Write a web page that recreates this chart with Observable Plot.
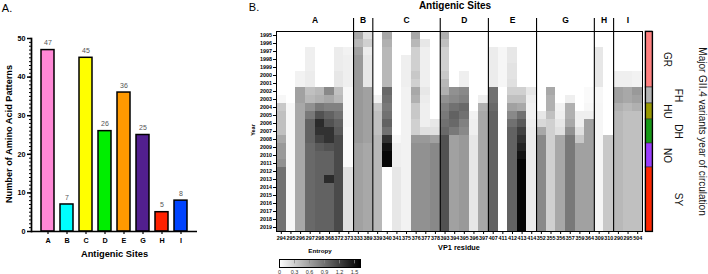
<!DOCTYPE html>
<html><head><meta charset="utf-8">
<script src="https://cdn.jsdelivr.net/npm/d3@7"></script>
<script src="https://cdn.jsdelivr.net/npm/@observablehq/plot@0.6"></script>
<style>
html,body{margin:0;padding:0;background:#fff;}
#root{position:relative;width:708px;height:274px;overflow:hidden;font-family:"Liberation Sans",Arial,Helvetica,sans-serif;color:#000;background:#fff;}
</style></head><body><div id="root"></div>
<script>
// ---------- Panel A data ----------
const sites = ["A","B","C","D","E","G","H","I"];
const patternCounts = [47,7,45,26,36,25,5,8];
const siteColors = ["#ff88d6","#00ffff","#ffff00","#00ee00","#ff9900","#521f8f","#ff2200","#0044ff"];
const barTicks = [0,10,20,30,40,50];

// ---------- Panel B data ----------
const years = [1995,1996,1997,1998,1999,2000,2001,2002,2003,2004,2005,2006,2007,2008,2009,2010,2011,2012,2013,2014,2015,2016,2017,2018,2019];
const residuesA = ["294","295","296","297","298","368","372","373"];
const residuesB = ["333","389"];
const residuesC = ["339","340","341","375","376","377","378"];
const residuesD = ["393","394","395","396","397"];
const residuesE = ["407","411","412","413","414"];
const residuesG = ["352","355","356","357","359","364"];
const residuesH = ["309","310"];
const residuesI = ["290","295","504"];

// entropy per residue, rows 1995..2019
const entropyA = [
 [0,0,0,0,0,0,0, 0,0.05,0.35,0.4,0.4,0.4,0.55, 0.65,0.65,0.7,0.9,0.9,0.9,0.9, 0.9,0.9,0.9,0.9],
 [0,0,0,0,0,0,0, 0,0,0.05,0.05,0.05,0.05,0.05, 0.05,0.05,0.05,0.05,0.05,0.05,0.05, 0.05,0.05,0.05,0.05],
 [0,0,0,0,0,0.08,0.08, 0.6,0.6,0.55,0.55,0.55,0.55,0.55, 0.55,0.55,0.55,0.55,0.55,0.55,0.55, 0.55,0.55,0.55,0.55],
 [0,0,0.1,0.1,0.1,0.12,0.12, 0.4,0.45,0.7,0.85,1.0,1.0,1.0, 0.95,0.95,0.95,0.95,0.95,0.95,0.95, 0.95,0.95,0.95,0.95],
 [0,0,0,0,0,0,0, 0.45,0.5,0.85,1.1,1.35,1.3,1.2, 1.05,1.0,1.0,1.0,1.0,1.0,1.0, 1.0,1.0,1.0,1.0],
 [0,0,0,0,0,0,0, 0.75,0.55,0.8,1.0,1.1,1.3,1.3, 1.1,1.0,1.0,1.0,1.35,1.0,1.0, 1.0,1.0,1.0,1.0],
 [0,0,0.12,0.12,0.12,0.15,0.15, 0.4,0.45,0.8,0.9,1.0,1.05,1.15, 1.15,1.15,1.15,1.15,1.15,1.15,1.15, 1.15,1.15,1.15,1.15],
 [0,0,0.08,0.1,0.1,0.1,0.1, 0.05,0.05,0.05,0.05,0.05,0.03,0.03, 0.03,0.03,0.03,0.2,0.2,0.2,0.2, 0.2,0.2,0.2,0.2]
];
const entropyB = [
 [0.55,0.45,0.6,0.65,0.65,0.65,0.65, 0.65,0.65,0.65,0.65,0.65,0.65,0.65, 0.6,0.6,0.6,0.6,0.6,0.6,0.6, 0.6,0.6,0.6,0.6],
 [0.2,0.3,0.12,0.15,0.15,0.15,0.15, 0.6,0.6,0.6,0.6,0.6,0.6,0.6, 0.55,0.55,0.55,0.55,0.55,0.55,0.55, 0.55,0.55,0.55,0.55]
];
const entropyC = [
 [0,0,0,0,0,0,0, 0,0.08,0.35,0.4,0.4,0.4,0.45, 0.45,0.45,0.45,0.45,0.45,0.45,0.45, 0.45,0.45,0.45,0.45],
 [0.55,0.5,0.45,0.45,0.45,0.45,0.45, 0.95,0.9,0.85,0.9,1.0,0.9,1.3, 1.5,1.58,1.58,0,0,0,0, 0,0,0,0],
 [0,0,0,0,0,0,0, 0,0,0,0,0,0,0.05, 0.1,0.1,0.1,0.15,0.15,0.15,0.15, 0.15,0.15,0.15,0.15],
 [0,0,0,0.1,0.1,0.1,0.1, 0.08,0.08,0.08,0.08,0.08,0.08,0.08, 0.08,0.08,0.08,0.08,0.08,0.08,0.08, 0.08,0.08,0.08,0.08],
 [0.55,0.45,0.3,0.3,0.3,0.35,0.3, 0.55,0.5,0.35,0.35,0.3,0.3,0.65, 0.7,0.7,0.7,0.7,0.7,0.7,0.7, 0.7,0.7,0.7,0.7],
 [0,0.15,0.1,0.1,0.1,0.1,0.1, 0.15,0.12,0.1,0.1,0.1,0.2,0.65, 0.7,0.7,0.7,0.7,0.7,0.7,0.7, 0.7,0.7,0.7,0.7],
 [0,0,0,0,0,0,0, 0,0,0,0,0.15,0.2,0.6, 0.75,0.75,0.75,0.75,0.75,0.75,0.75, 0.75,0.75,0.75,0.75]
];
const entropyD = [
 [0.5,0.4,0.3,0.3,0.3,0.35,0.45, 0.5,0.7,0.8,0.85,0.9,0.95,1.1, 1.1,1.1,1.1,1.1,1.1,1.1,1.1, 1.1,1.1,1.1,1.1],
 [0,0,0,0,0,0,0, 0.7,0.75,0.9,1.0,0.95,0.85,0.6, 0.6,0.6,0.6,0.6,0.6,0.6,0.6, 0.6,0.6,0.6,0.6],
 [0,0,0,0,0,0.1,0.1, 0.75,0.8,0.95,0.9,0.8,0.75,0.65, 0.65,0.65,0.65,0.65,0.65,0.65,0.65, 0.65,0.65,0.65,0.65],
 [0,0,0,0,0,0,0, 0,0,0,0.08,0.1,0.1,0.15, 0.15,0.15,0.15,0.15,0.15,0.15,0.15, 0.15,0.15,0.15,0.15],
 [0,0,0,0,0,0,0, 0,0.1,0.5,0.55,0.55,0.55,0.55, 0.55,0.55,0.55,0.55,0.55,0.55,0.55, 0.55,0.55,0.55,0.55]
];
const entropyE = [
 [0,0,0.12,0.12,0.12,0.12,0.12, 0.9,0.9,0.95,1.0,1.0,1.0,1.0, 1.0,1.0,1.0,1.0,1.0,1.0,1.0, 1.0,1.0,1.0,1.0],
 [0,0,0.06,0.06,0.06,0.06,0.06, 0,0,0,0,0,0,0, 0,0,0,0,0,0,0, 0,0,0,0],
 [0,0,0.15,0.15,0.18,0.18,0.2, 0.3,0.4,0.6,0.75,0.9,1.0,1.0, 1.0,1.0,1.0,1.0,1.0,1.0,1.0, 1.0,1.0,1.0,1.0],
 [0,0,0,0,0,0,0, 0.3,0.4,0.55,0.9,1.05,1.2,1.3, 1.4,1.5,1.58,1.58,1.58,1.58,1.58, 1.58,1.58,1.58,1.58],
 [0,0,0,0,0,0,0, 0.15,0.1,0.08,0.08,0.1,0.12,0.12, 0.12,0.12,0.12,0.12,0.12,0.12,0.12, 0.12,0.12,0.12,0.12]
];
const entropyG = [
 [0,0,0,0,0,0,0, 0,0,0,0.15,0.25,0.55,0.75, 0.75,0.75,0.75,0.75,0.75,0.75,0.75, 0.75,0.75,0.75,0.75],
 [0,0,0,0,0,0,0, 0.55,0.5,0.5,0.4,0.3,0.3,0.3, 0.3,0.3,0.3,0.3,0.3,0.3,0.3, 0.3,0.3,0.3,0.3],
 [0,0,0,0,0,0,0, 0,0,0.08,0.1,0.15,0.2,0.55, 0.55,0.55,0.55,0.55,0.55,0.55,0.55, 0.55,0.55,0.55,0.55],
 [0,0,0,0,0,0,0, 0,0.1,0.5,0.5,0.55,0.7,0.85, 0.85,0.85,0.85,0.85,0.85,0.85,0.85, 0.85,0.85,0.85,0.85],
 [0,0,0,0,0,0,0, 0,0,0,0.1,0.1,0.2,0.35, 0.6,0.6,0.6,0.6,0.6,0.6,0.6, 0.6,0.6,0.6,0.6],
 [0,0,0,0,0,0,0, 0.03,0.03,0.05,0.1,0.6,0.6,0.6, 0.6,0.6,0.6,0.6,0.6,0.6,0.6, 0.6,0.6,0.6,0.6]
];
const entropyH = [
 [0,0,0.15,0.15,0.15,0.15,0.15, 0.05,0.05,0.06,0.06,0.06,0.06,0.06, 0.06,0.06,0.06,0.06,0.06,0.06,0.06, 0.06,0.06,0.06,0.06],
 [0,0,0,0,0,0,0, 0,0,0,0,0,0,0.35, 0.35,0.35,0.35,0.35,0.35,0.35,0.35, 0.35,0.35,0.35,0.35]
];
const entropyI = [
 [0,0,0,0,0,0.1,0.1, 0.6,0.6,0.5,0.45,0.45,0.45,0.45, 0.45,0.45,0.45,0.45,0.45,0.45,0.45, 0.45,0.45,0.45,0.45],
 [0,0,0,0,0,0.1,0.1, 0.55,0.55,0.45,0.4,0.4,0.4,0.4, 0.4,0.4,0.4,0.4,0.4,0.4,0.4, 0.4,0.4,0.4,0.4],
 [0,0,0,0,0,0.08,0.08, 0.65,0.6,0.5,0.4,0.4,0.4,0.4, 0.4,0.4,0.4,0.4,0.4,0.4,0.4, 0.4,0.4,0.4,0.4]
];
const entropyTicks = [0,0.3,0.6,0.9,1.2,1.5];
const entropyMax = 1.62;

// variants
const variantNames = ["GR","FH","HU","DH","NO","SY"];
const variantStart = [1995,2002,2004,2006,2009,2012];
const variantEnd   = [2001,2003,2005,2008,2011,2019];
const variantColors = ["#ff8080","#b3b3b3","#999900","#159a15","#9b3cff","#ff2600"];

// ---------- build ----------
const FONT = '"Liberation Sans", Arial, Helvetica, sans-serif';
const root = document.getElementById("root");
function put(node, left, top) {
  const w = document.createElement("div");
  w.style.cssText = `position:absolute;left:${left}px;top:${top}px;`;
  w.appendChild(node); root.appendChild(w);
}
function label(text, cx, cy, size, weight, rot, color) {
  const d = document.createElement("div");
  d.textContent = text;
  d.style.cssText = `position:absolute;left:${cx}px;top:${cy}px;font-size:${size}px;font-weight:${weight};white-space:nowrap;line-height:1;color:${color||"#000"};transform:translate(-50%,-50%) rotate(${rot||0}deg);`;
  root.appendChild(d);
}
const baseStyle = {fontFamily: FONT, background: "transparent", overflow: "visible", color: "#000"};

// Panel A
const barData = sites.map((s, i) => ({site: s, n: patternCounts[i]}));
const plotA = Plot.plot({
  width: 230, height: 274,
  marginLeft: 31, marginRight: 33, marginTop: 38, marginBottom: 43,
  style: {...baseStyle, fontSize: "7.2px", fontWeight: "bold"},
  x: {domain: sites, paddingInner: 0.34, paddingOuter: 0.38},
  y: {domain: [0, 50]},
  color: {domain: sites, range: siteColors},
  marks: [
    Plot.barY(barData, {x: "site", y: "n", fill: "site", stroke: "#000", strokeWidth: 1.5}),
    Plot.text(barData, {x: "site", y: "n", text: d => String(d.n), dy: -7, fill: "#555", fontWeight: "normal", fontSize: 7}),
    Plot.axisY({ticks: d3.range(0, 51), tickSize: 2, tickFormat: () => "", label: null, strokeWidth: 1}),
    Plot.axisY({ticks: barTicks, tickSize: 4, tickPadding: 2, label: null, strokeWidth: 1.5}),
    Plot.axisX({tickSize: 3, tickPadding: 3, label: null, strokeWidth: 1.2}),
    Plot.ruleY([0], {strokeWidth: 1.7}),
    Plot.frame({anchor: "left", strokeWidth: 1.7})
  ]
});
put(plotA, 0, 0);

// Panel B heatmap
const groups = [
  ["A", residuesA, entropyA], ["B", residuesB, entropyB], ["C", residuesC, entropyC],
  ["D", residuesD, entropyD], ["E", residuesE, entropyE], ["G", residuesG, entropyG],
  ["H", residuesH, entropyH], ["I", residuesI, entropyI]
];
const residues = [], cells = [], siteGroups = [], boundaries = [];
for (const [site, res, ent] of groups) {
  const start = residues.length;
  res.forEach((r, j) => {
    const i = residues.length;
    residues.push(r);
    years.forEach((y, k) => cells.push({i, year: y, v: ent[j][k]}));
  });
  siteGroups.push({site, start, end: residues.length});
  if (start > 0) boundaries.push(start);
}
const nCols = residues.length;
const yTop = years[0] - 0.5, yBot = years[years.length - 1] + 0.5;
const heatRange = ["#ffffff", "#000000"];
const heatColor = {type: "linear", domain: [0, entropyMax], range: heatRange};

const plotB = Plot.plot({
  width: 420, height: 274,
  marginLeft: 46, marginRight: 8, marginTop: 31, marginBottom: 43,
  style: {...baseStyle, fontSize: "5.4px", fontWeight: "bold"},
  x: {domain: [0, nCols]},
  y: {domain: [yTop, yBot], reverse: true},
  color: heatColor,
  marks: [
    Plot.rect(cells, {x1: "i", x2: d => d.i + 1, y1: d => d.year - 0.5, y2: d => d.year + 0.5, fill: "v", shapeRendering: "crispEdges"}),
    Plot.frame({strokeWidth: 1}),
    Plot.ruleX(boundaries, {y1: yBot, y2: yTop - 1.62, strokeWidth: 1.1}),
    Plot.text(siteGroups, {x: d => (d.start + d.end) / 2, y: yTop - 1.38, text: "site", fontSize: 8.5, fontWeight: "bold"}),
    Plot.axisX({ticks: residues.map((r, i) => i + 0.5), tickFormat: t => residues[Math.floor(t)], tickSize: 3, tickPadding: 1.5, label: null}),
    Plot.axisY({ticks: years, tickFormat: d => String(d), tickSize: 3, tickPadding: 1.5, label: null})
  ]
});
put(plotB, 230, 0);

// colour bar (gradient from the heat colour range)
const gradientDefs = () => {
  const defs = d3.create("svg:defs");
  const g = defs.append("linearGradient").attr("id", "entropyGrad").attr("x1", "0%").attr("x2", "100%").attr("y1", "0%").attr("y2", "0%");
  g.append("stop").attr("offset", "0%").attr("stop-color", heatRange[0]);
  g.append("stop").attr("offset", "100%").attr("stop-color", heatRange[1]);
  return defs.node();
};
const plotC = Plot.plot({
  width: 95, height: 24,
  marginLeft: 5, marginRight: 9, marginTop: 4, marginBottom: 12,
  style: {...baseStyle, fontSize: "5.5px", color: "#333"},
  x: {domain: [0, entropyMax]},
  y: {domain: [0, 1], axis: null},
  marks: [
    gradientDefs,
    Plot.rect([entropyMax], {x1: 0, x2: d => d, y1: 0, y2: 1, fill: "url(#entropyGrad)"}),
    Plot.ruleX(entropyTicks.slice(1), {y1: 0.45, y2: 1, stroke: "#888", strokeWidth: 0.8}),
    Plot.frame({stroke: "#000", strokeWidth: 1}),
    Plot.axisX({ticks: entropyTicks, tickSize: 0, tickPadding: 3, tickFormat: d => String(d), label: null})
  ]
});
put(plotC, 274, 255);

// variant bar
const variantData = variantNames.map((n, i) => ({name: n, start: variantStart[i], end: variantEnd[i], color: variantColors[i]}));
const plotV = Plot.plot({
  width: 68, height: 274,
  marginLeft: 5, marginRight: 56, marginTop: 31, marginBottom: 43,
  style: {...baseStyle, fontSize: "10px"},
  x: {domain: [0, 1], axis: null},
  y: {domain: [yTop, yBot], reverse: true, axis: null},
  marks: [
    Plot.rect(variantData, {x1: 0, x2: 1, y1: d => d.start - 0.5, y2: d => d.end + 0.5, fill: "color", stroke: "#333", strokeWidth: 0.6}),
    Plot.frame({strokeWidth: 1.2}),
    Plot.text(variantData.filter((d, i) => i % 2 === 0), {x: 1, y: d => (d.start + d.end) / 2, text: "name", dx: 15, rotate: 90, fontSize: 10, fill: "#111"}),
    Plot.text(variantData.filter((d, i) => i % 2 === 1), {x: 1, y: d => (d.start + d.end) / 2, text: "name", dx: 26, rotate: 90, fontSize: 10, fill: "#111"}),
    Plot.text(["Major GII.4 variants year of circulation"], {frameAnchor: "right", textAnchor: "middle", dx: 50, rotate: 90, fontSize: 10, fill: "#111"})
  ]
});
put(plotV, 640, 0);

// titles
label("A.", 7, 8, 11, "normal");
label("B.", 254, 7, 11, "normal");
label("Number of Amino Acid Patterns", 10, 134, 9.2, "bold", -90);
label("Antigenic Sites", 114.5, 255, 9.3, "bold");
label("Antigenic Sites", 455, 5.5, 10, "bold");
label("Year", 254, 130, 5.5, "bold", -90);
label("VP1 residue", 459, 248, 7.3, "bold");
label("Entropy", 320, 251, 6.2, "bold");
</script></body></html>
